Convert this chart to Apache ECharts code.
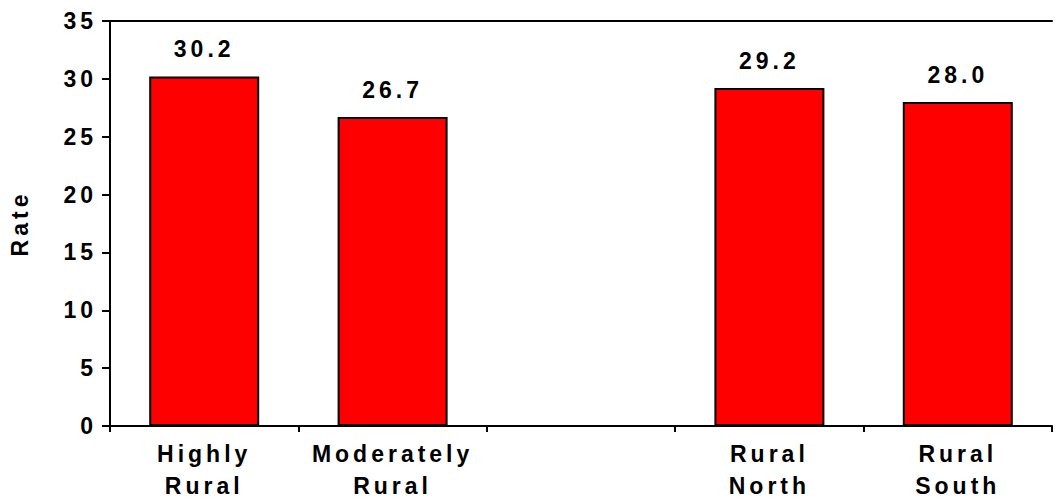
<!DOCTYPE html>
<html>
<head>
<meta charset="utf-8">
<script src="https://cdn.jsdelivr.net/npm/echarts@6/dist/echarts.min.js"></script>
<style>
html, body { margin: 0; padding: 0; background: #fff; }
#chart { width: 1055px; height: 499px; letter-spacing: 4px; }
</style>
</head>
<body>
<div id="chart"></div>
<script>
const categories = ['Highly\nRural', 'Moderately\nRural', '', 'Rural\nNorth', 'Rural\nSouth'];
const rates = [30.2, 26.7, null, 29.2, 28.0];
const yTicks = { min: 0, max: 35, interval: 5 };

const FONT = "'Liberation Sans', Arial, Helvetica, sans-serif";
const chart = echarts.init(document.getElementById('chart'), null, { renderer: 'svg' });
chart.setOption({
  animation: false,
  backgroundColor: '#fff',
  grid: { left: 110, right: 3, top: 21, bottom: 73, containLabel: false, outerBoundsMode: 'none' },
  xAxis: [{
    type: 'category',
    data: categories,
    position: 'bottom',
    axisLine: { show: true, lineStyle: { color: '#000', width: 2 } },
    axisTick: { show: true, length: 6, inside: false, alignWithLabel: false, lineStyle: { color: '#000', width: 2 } },
    axisLabel: {
      interval: 0, margin: 12, color: '#000',
      fontFamily: FONT, fontWeight: 'bold', fontSize: 23, lineHeight: 32
    },
    splitLine: { show: false }
  }, {
    type: 'category',
    data: categories,
    position: 'top',
    axisLine: { show: true, lineStyle: { color: '#000', width: 2 } },
    axisTick: { show: false },
    axisLabel: { show: false },
    splitLine: { show: false }
  }],
  yAxis: {
    type: 'value',
    min: yTicks.min, max: yTicks.max, interval: yTicks.interval,
    name: 'Rate',
    nameLocation: 'middle',
    nameGap: 79,
    nameRotate: 90,
    nameTextStyle: { color: '#000', fontFamily: FONT, fontWeight: 'bold', fontSize: 23 },
    axisLine: { show: true, lineStyle: { color: '#000', width: 2 } },
    axisTick: { show: true, length: 8, inside: false, lineStyle: { color: '#000', width: 2 } },
    axisLabel: { margin: 13, color: '#000', fontFamily: FONT, fontWeight: 'bold', fontSize: 23 },
    splitLine: { show: false }
  },
  series: [{
    type: 'bar',
    data: rates,
    barWidth: 110,
    itemStyle: { color: '#ff0000', borderColor: '#000', borderWidth: 2 },
    label: {
      show: true, position: 'top', distance: 16,
      color: '#000', fontFamily: FONT, fontWeight: 'bold', fontSize: 23,
      formatter: p => p.value == null ? '' : Number(p.value).toFixed(1)
    }
  }]
});
</script>
</body>
</html>
